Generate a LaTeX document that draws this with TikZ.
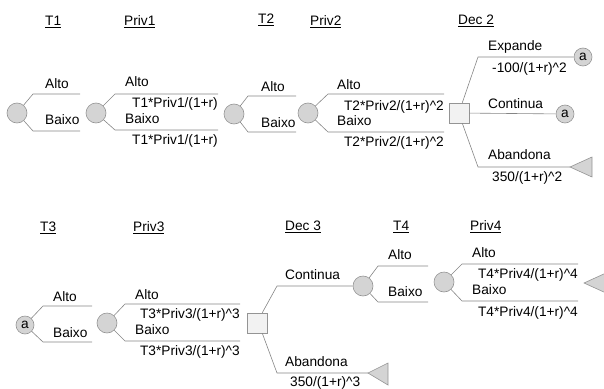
\documentclass[tikz,border=0pt]{standalone}
\usepackage{fontspec}
\setmainfont{Liberation Sans}
\begin{document}
\begin{tikzpicture}[x=1pt,y=-1pt,
  every node/.style={inner sep=0pt, font=\fontsize{13.7}{15}\selectfont},
  chance/.style={circle, draw=black!42, fill=black!17, minimum size=20pt, line width=0.6pt},
  chancea/.style={circle, draw=black!42, fill=black!17, minimum size=18pt, line width=0.6pt},
  decis/.style={rectangle, draw=black!42, fill=black!5, minimum size=20pt, line width=0.6pt},
  br/.style={draw=black!48, line width=0.6pt},
  trishape/.style={draw=black!42, fill=black!17, line width=0.6pt},
  lbl/.style={anchor=west},
  val/.style={anchor=east},
  head/.style={anchor=west}]
\useasboundingbox (0,0) rectangle (604,388);
\clip (0,0) rectangle (604,388);

% ---------- headings row 1
\node[head] (h1) at (45,22) {\underline{T1}};
\node[head] (h2) at (124,22) {\underline{Priv1}};
\node[head] (h3) at (258,20) {\underline{T2}};
\node[head] (h4) at (310,22) {\underline{Priv2}};
\node[head] (h5) at (458,21) {\underline{Dec 2}};

% ---------- row 1 nodes
\node[chance] (c1) at (17,113) {};
\node[chance] (c2) at (96,113) {};
\node[chance] (c3) at (234,114) {};
\node[chance] (c4) at (308,113) {};
\node[decis] (s1) at (459,113) {};
\node[chancea] (a1) at (583,57) {a};
\node[chancea] (a2) at (565,114) {a};
\coordinate (t1) at (570,167);

% c1 branches
\coordinate (c1u) at (33,94); \coordinate (c1ue) at (80,94);
\coordinate (c1d) at (33,131); \coordinate (c1de) at (80,131);
\draw[br] (c1) -- (c1u) -- (c1ue);
\draw[br] (c1) -- (c1d) -- (c1de);
\node[lbl] (l1a) at (45,84) {Alto};
\node[lbl] (l1b) at (45,120) {Baixo};

% c2 branches
\coordinate (c2u) at (115,94); \coordinate (c2ue) at (218,94);
\coordinate (c2d) at (115,130); \coordinate (c2de) at (218,130);
\draw[br] (c2) -- (c2u) -- (c2ue);
\draw[br] (c2) -- (c2d) -- (c2de);
\node[lbl] (l2a) at (125,82) {Alto};
\node[val] (v2a) at (218,104) {T1*Priv1/(1+r)};
\node[lbl] (l2b) at (125,119) {Baixo};
\node[val] (v2b) at (218,141) {T1*Priv1/(1+r)};

% c3 branches
\coordinate (c3u) at (248,96); \coordinate (c3ue) at (296,96);
\coordinate (c3d) at (248,132); \coordinate (c3de) at (296,132);
\draw[br] (c3) -- (c3u) -- (c3ue);
\draw[br] (c3) -- (c3d) -- (c3de);
\node[lbl] (l3a) at (261,87) {Alto};
\node[lbl] (l3b) at (261,123) {Baixo};

% c4 branches
\coordinate (c4u) at (328,94); \coordinate (c4ue) at (444,94);
\coordinate (c4d) at (328,132); \coordinate (c4de) at (444,132);
\draw[br] (c4) -- (c4u) -- (c4ue);
\draw[br] (c4) -- (c4d) -- (c4de);
\node[lbl] (l4a) at (337,85) {Alto};
\node[val] (v4a) at (444,107) {T2*Priv2/(1+r)\^{}2};
\node[lbl] (l4b) at (337,121) {Baixo};
\node[val] (v4b) at (444,143) {T2*Priv2/(1+r)\^{}2};

% Dec 2 branches
\coordinate (s1u) at (478,57);
\coordinate (s1d) at (478,167);
\draw[br] (s1.north east) ++(-7,0) coordinate (s1ua) -- (s1u) -- (a1);
\draw[br] (s1) -- (a2);
\draw[br] (s1.south east) ++(-7,0) coordinate (s1da) -- (s1d) -- (t1);
\node[lbl] (l5a) at (488,47) {Expande};
\node[lbl] (v5a) at (492,69) {-100/(1+r)\^{}2};
\node[lbl] (l5b) at (488,104) {Continua};
\node[lbl] (l5c) at (488,155) {Abandona};
\node[lbl] (v5c) at (492,178) {350/(1+r)\^{}2};
\path[trishape] (t1) -- ++(22,-10) -- ++(0,20) -- cycle;

% ---------- headings row 2
\node[head] (h6) at (40,228) {\underline{T3}};
\node[head] (h7) at (133,228) {\underline{Priv3}};
\node[head] (h8) at (285,227) {\underline{Dec 3}};
\node[head] (h9) at (393,227) {\underline{T4}};
\node[head] (h10) at (470,227) {\underline{Priv4}};

% ---------- row 2 nodes
\node[chancea] (a3) at (25,325) {a};
\node[chance] (c5) at (107,323) {};
\node[decis] (s2) at (257,323) {};
\node[chance] (c6) at (363,286) {};
\node[chance] (c7) at (444,282) {};
\coordinate (t2) at (368,373);
\coordinate (t3) at (584,283);

% a3 branches
\coordinate (a3u) at (43,306); \coordinate (a3ue) at (92,306);
\coordinate (a3d) at (43,342); \coordinate (a3de) at (92,342);
\draw[br] (a3) -- (a3u) -- (a3ue);
\draw[br] (a3) -- (a3d) -- (a3de);
\node[lbl] (l6a) at (53,297) {Alto};
\node[lbl] (l6b) at (53,333) {Baixo};

% c5 branches
\coordinate (c5u) at (125,304); \coordinate (c5ue) at (240,304);
\coordinate (c5d) at (125,341); \coordinate (c5de) at (240,341);
\draw[br] (c5) -- (c5u) -- (c5ue);
\draw[br] (c5) -- (c5d) -- (c5de);
\node[lbl] (l7a) at (135,295) {Alto};
\node[val] (v7a) at (240,315) {T3*Priv3/(1+r)\^{}3};
\node[lbl] (l7b) at (135,330) {Baixo};
\node[val] (v7b) at (240,352) {T3*Priv3/(1+r)\^{}3};

% Dec 3 branches
\coordinate (s2u) at (277,286);
\coordinate (s2d) at (277,373);
\draw[br] (s2.north east) ++(-5,0) coordinate (s2ua) -- (s2u) -- (c6);
\draw[br] (s2.south east) ++(-5,0) coordinate (s2da) -- (s2d) -- (t2);
\node[lbl] (l8a) at (285,275) {Continua};
\node[lbl] (l8b) at (285,362) {Abandona};
\node[lbl] (v8b) at (290,383) {350/(1+r)\^{}3};
\path[trishape] (t2) -- ++(20,-10) -- ++(0,22) -- cycle;

% c6 branches
\coordinate (c6u) at (378,266); \coordinate (c6ue) at (428,266);
\coordinate (c6d) at (378,302); \coordinate (c6de) at (428,302);
\draw[br] (c6) -- (c6u) -- (c6ue);
\draw[br] (c6) -- (c6d) -- (c6de);
\node[lbl] (l9a) at (388,255) {Alto};
\node[lbl] (l9b) at (388,292) {Baixo};

% c7 branches
\coordinate (c7u) at (462,264); \coordinate (c7ue) at (578,264);
\coordinate (c7d) at (462,301); \coordinate (c7de) at (578,301);
\draw[br] (c7) -- (c7u) -- (c7ue);
\draw[br] (c7) -- (c7d) -- (c7de);
\node[lbl] (l10a) at (472,253) {Alto};
\node[val] (v10a) at (578,275) {T4*Priv4/(1+r)\^{}4};
\node[lbl] (l10b) at (472,290) {Baixo};
\node[val] (v10b) at (578,313) {T4*Priv4/(1+r)\^{}4};
\path[trishape] (t3) -- ++(22,-10) -- ++(0,20) -- cycle;
\end{tikzpicture}
\end{document}
